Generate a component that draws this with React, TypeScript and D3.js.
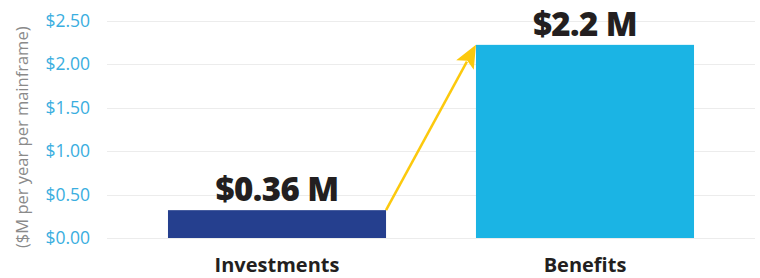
import React, { useEffect, useRef } from 'react';
import * as d3 from 'd3';

const categories = ['Investments', 'Benefits'];
const values = [0.32, 2.22];
const valueLabels = ['$0.36 M', '$2.2 M'];
const yTicks = [0, 0.5, 1, 1.5, 2, 2.5];
const yTitle = '($M per year per mainframe)';

const barColors = ['#253f8e', '#1bb4e4'];

export default function App() {
  const svgRef = useRef<SVGSVGElement>(null);

  useEffect(() => {
    document.body.style.margin = '0';
    if (!svgRef.current) return;
    const svg = d3.select(svgRef.current);
    svg.selectAll('*').remove();

    const width = 760;
    const height = 278;
    const left = 107;
    const right = 755;
    const top = 20.5;
    const bottom = 238;

    const x = d3.scaleBand<string>()
      .domain(categories)
      .range([left, right])
      .paddingInner(0.292)
      .paddingOuter(0.198);

    const y = d3.scaleLinear().domain([0, 2.5]).range([bottom, top]);

    svg.attr('width', width).attr('height', height);

    // grid lines
    svg.append('g')
      .selectAll('line')
      .data(yTicks)
      .join('line')
      .attr('x1', left)
      .attr('x2', right)
      .attr('y1', d => Math.round(y(d)) + 0.5)
      .attr('y2', d => Math.round(y(d)) + 0.5)
      .attr('stroke', '#ececec')
      .attr('stroke-width', 1);

    // tick labels
    svg.append('g')
      .selectAll('text')
      .data(yTicks)
      .join('text')
      .attr('x', 90)
      .attr('y', d => y(d))
      .attr('dy', '0.35em')
      .attr('text-anchor', 'end')
      .attr('fill', '#3aaee0')
      .style('font-family', '"Open Sans", sans-serif')
      .style('font-size', '17.5px')
      .text(d => `$${d.toFixed(2)}`);

    // y title
    svg.append('text')
      .attr('transform', `translate(28, ${(top + bottom) / 2 + 8}) rotate(-90)`)
      .attr('text-anchor', 'middle')
      .attr('fill', '#8a8a8a')
      .style('font-family', '"Open Sans", sans-serif')
      .style('font-size', '16.5px')
      .text(yTitle);

    // bars
    svg.append('g')
      .selectAll('rect')
      .data(categories)
      .join('rect')
      .attr('x', d => x(d)!)
      .attr('width', x.bandwidth())
      .attr('y', (d, i) => y(values[i]))
      .attr('height', (d, i) => y(0) - y(values[i]))
      .attr('fill', (d, i) => barColors[i]);

    // value labels
    svg.append('g')
      .selectAll('text')
      .data(categories)
      .join('text')
      .attr('x', d => x(d)! + x.bandwidth() / 2)
      .attr('y', (d, i) => y(values[i]) - 9)
      .attr('text-anchor', 'middle')
      .attr('fill', '#231f20')
      .style('font-family', '"Open Sans", sans-serif')
      .style('font-weight', '800')
      .style('font-size', '33px')
      .style('letter-spacing', '-0.6px')
      .text((d, i) => valueLabels[i]);

    // category labels
    svg.append('g')
      .selectAll('text')
      .data(categories)
      .join('text')
      .attr('x', d => x(d)! + x.bandwidth() / 2)
      .attr('y', 272)
      .attr('text-anchor', 'middle')
      .attr('fill', '#231f20')
      .style('font-family', '"Open Sans", sans-serif')
      .style('font-weight', '700')
      .style('font-size', '20px')
      .text(d => d);

    // arrow
    const x0 = x(categories[0])! + x.bandwidth();
    const y0 = y(values[0]);
    const x1 = x(categories[1])!;
    const y1 = y(values[1]);
    const ang = Math.atan2(y1 - y0, x1 - x0);
    const headLen = 23;
    const headW = 10;
    const bx = x1 - headLen * Math.cos(ang);
    const by = y1 - headLen * Math.sin(ang);
    const px = -Math.sin(ang);
    const py = Math.cos(ang);

    svg.append('line')
      .attr('x1', x0)
      .attr('y1', y0)
      .attr('x2', bx + 4 * Math.cos(ang))
      .attr('y2', by + 4 * Math.sin(ang))
      .attr('stroke', '#fcc90d')
      .attr('stroke-width', 2.5);

    svg.append('path')
      .attr('d', d3.line()([
        [x1, y1],
        [bx + px * headW, by + py * headW],
        [bx + 5 * Math.cos(ang), by + 5 * Math.sin(ang)],
        [bx - px * headW, by - py * headW],
      ]) + 'Z')
      .attr('fill', '#fcc90d');
  }, []);

  return <svg ref={svgRef} style={{ display: 'block' }} />;
}
